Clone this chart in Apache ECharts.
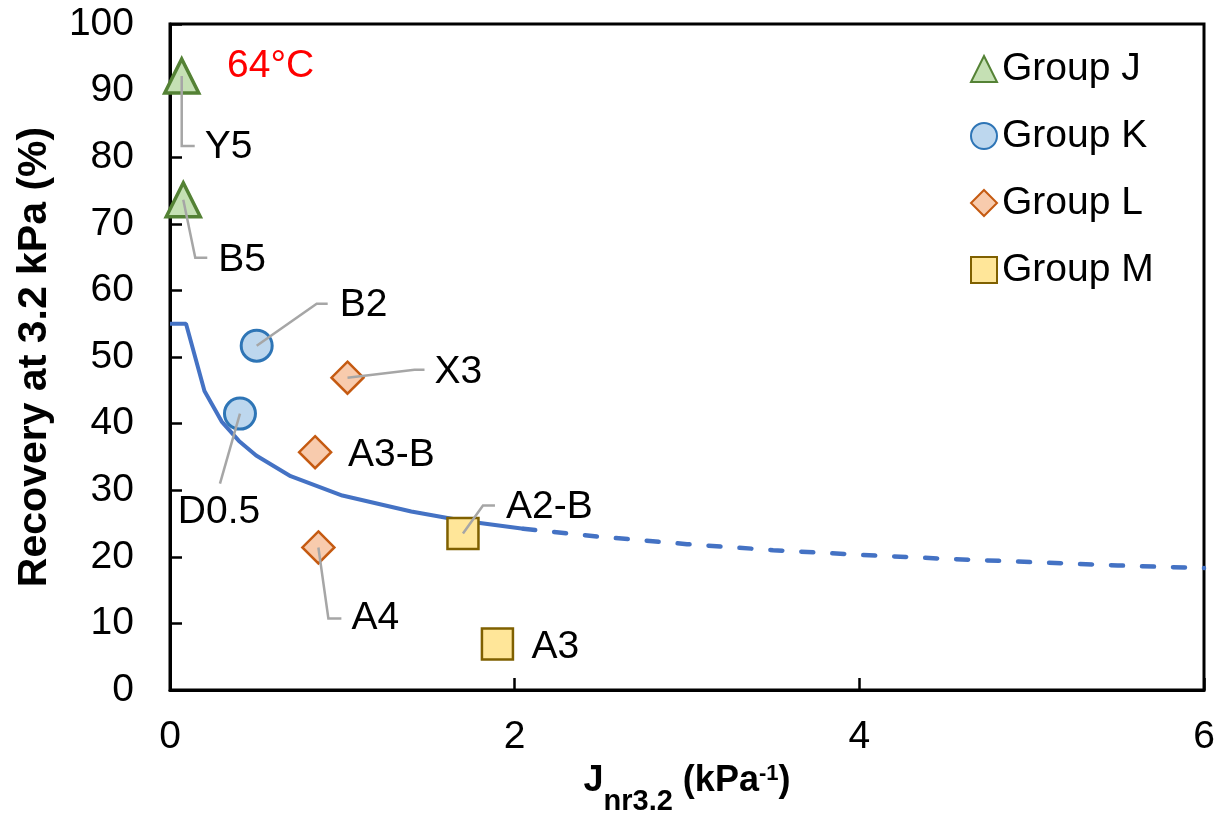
<!DOCTYPE html>
<html lang="en">
<head>
<meta charset="UTF-8">
<title>Recovery at 3.2 kPa vs Jnr3.2</title>
<script src="https://cdn.jsdelivr.net/npm/echarts@6.0.0/dist/echarts.min.js"></script>
<style>
    * {
        margin: 0;
        padding: 0;
    }
    body {
        background: #fff;
    }
    #chart {
        width: 1217px;
        height: 822px;
    }
</style>
</head>
<body>
<div id="chart"></div>

<script>
    // values: [Jnr3.2, recovery %]
    const groupJ = [[0.068, 92.2], [0.077, 73.6]];
    const groupJNames = ['Y5', 'B5'];
    const groupK = [[0.503, 51.7], [0.406, 41.5]];
    const groupKNames = ['B2', 'D0.5'];
    const groupL = [[1.03, 46.9], [0.842, 35.7], [0.861, 21.4]];
    const groupLNames = ['X3', 'A3-B', 'A4'];
    const groupM = [[1.70, 23.5], [1.90, 6.9]];
    const groupMNames = ['A2-B', 'A3'];

    // fitted curve, solid part and dashed extension
    const curveSolid = [[0, 55], [0.093, 55], [0.2, 44.9], [0.3, 40.3], [0.4, 37.4], [0.5, 35.2],
        [0.7, 32.1], [1.0, 29.2], [1.4, 26.8], [1.7, 25.4], [2.05, 24.2]];
    const curveDashed = [[2.05, 24.2], [2.5, 23.0], [3, 21.9], [3.5, 21.0], [4, 20.3], [4.5, 19.7],
        [5, 19.2], [5.5, 18.7], [6, 18.3]];

    const xTicks = [0, 2, 4, 6];
    const yTicks = [0, 10, 20, 30, 40, 50, 60, 70, 80, 90, 100];

    // where each point's label sits, in pixels from the point (layout only)
    const labelPlace = {
        'Y5':   {line: [[0, 0], [0, 70], [13, 70]], text: [23, 71]},
        'B5':   {line: [[0, 0], [12, 58], [24, 58]], text: [35, 60]},
        'B2':   {line: [[0, 0], [60, -42], [71, -42]], text: [83, -40]},
        'D0.5': {line: [[0, 0], [-20, 70]], text: [-21, 99], align: 'center'},
        'X3':   {line: [[0, 0], [67, -8], [77, -8]], text: [87, -5]},
        'A3-B': {text: [33, 3]},
        'A4':   {line: [[0, 0], [10, 71], [23, 71]], text: [33, 71]},
        'A2-B': {line: [[0, 0], [20, -28], [32, -28]], text: [43, -26]},
        'A3':   {text: [34, 3]}
    };

    const FONT = '"Liberation Sans", Arial, sans-serif';

    const labelData = [
        ...groupJ.map((p, i) => [p[0], p[1], groupJNames[i]]),
        ...groupK.map((p, i) => [p[0], p[1], groupKNames[i]]),
        ...groupL.map((p, i) => [p[0], p[1], groupLNames[i]]),
        ...groupM.map((p, i) => [p[0], p[1], groupMNames[i]])
    ];

    const myChart = echarts.init(document.getElementById('chart'));

    const scatterSeries = (name, data, symbol, size, fill, border, bw) => ({
        name,
        type: 'scatter',
        data,
        symbol,
        symbolSize: size,
        z: 3,
        itemStyle: {color: fill, borderColor: border, borderWidth: bw, opacity: 1}
    });

    const option = {
        animation: false,
        backgroundColor: '#fff',
        textStyle: {fontFamily: FONT},
        grid: {
            left: 170, right: 13, top: 24, bottom: 132,
            show: true, borderColor: '#000', borderWidth: 3,
            containLabel: false,
            outerBoundsMode: 'none'
        },
        legend: {
            orient: 'vertical',
            left: 970,
            top: 49,
            padding: 0,
            itemWidth: 26,
            itemHeight: 26,
            itemGap: 27,
            data: ['Group J', 'Group K', 'Group L', 'Group M'],
            textStyle: {fontSize: 39, color: '#000', fontFamily: FONT, lineHeight: 40}
        },
        graphic: [{
            type: 'text',
            left: 227,
            top: 47,
            style: {text: '64°C', fill: '#FF0000', fontSize: 39, fontFamily: FONT}
        }],
        xAxis: {
            type: 'value',
            min: 0,
            max: 6,
            interval: 2,
            name: '{a|J}{b|nr3.2}{a| (kPa}{c|-1}{a|)}',
            nameLocation: 'middle',
            nameGap: 73,
            nameMoveOverlap: false,
            nameTextStyle: {
                rich: {
                    a: {fontSize: 36, fontWeight: 'bold', fontFamily: FONT, color: '#000',
                        lineHeight: 44, verticalAlign: 'top'},
                    b: {fontSize: 29, fontWeight: 'bold', fontFamily: FONT, color: '#000',
                        lineHeight: 29, verticalAlign: 'top', padding: [24, 0, 0, 0]},
                    c: {fontSize: 22, fontWeight: 'bold', fontFamily: FONT, color: '#000',
                        lineHeight: 22, verticalAlign: 'top', padding: [0, 0, 14, 0]}
                }
            },
            axisLine: {show: true, onZero: false, lineStyle: {color: '#000', width: 3}},
            axisTick: {show: true, inside: true, length: 12, lineStyle: {color: '#000', width: 2.5}},
            axisLabel: {
                fontSize: 39, color: '#000', fontFamily: FONT, margin: 28,
                customValues: xTicks
            },
            splitLine: {show: false}
        },
        yAxis: {
            type: 'value',
            min: 0,
            max: 100,
            interval: 10,
            name: 'Recovery at 3.2 kPa (%)',
            nameLocation: 'middle',
            nameGap: 115,
            nameMoveOverlap: false,
            nameTextStyle: {fontSize: 41, fontWeight: 'bold', color: '#000', fontFamily: FONT},
            axisLine: {show: true, onZero: false, lineStyle: {color: '#000', width: 3}},
            axisTick: {show: true, inside: true, length: 12, lineStyle: {color: '#000', width: 2.5}},
            axisLabel: {
                fontSize: 39, color: '#000', fontFamily: FONT, margin: 36,
                customValues: yTicks
            },
            splitLine: {show: false}
        },
        series: [
            {
                name: 'fit',
                type: 'line',
                data: curveSolid,
                symbol: 'none',
                z: 2,
                lineStyle: {color: '#4472C4', width: 4}
            },
            {
                name: 'fit extension',
                type: 'line',
                data: curveDashed,
                symbol: 'none',
                z: 2,
                lineStyle: {color: '#4472C4', width: 4.5, type: [12, 19], cap: 'round'}
            },
            scatterSeries('Group J', groupJ, 'triangle', 34, '#C5E0B4', '#548235', 3.5),
            scatterSeries('Group K', groupK, 'circle', 31, '#BDD7EE', '#2E75B6', 3),
            scatterSeries('Group L', groupL, 'diamond', 32, '#F8CBAD', '#C55A11', 2.5),
            scatterSeries('Group M', groupM, 'rect', 31, '#FFE699', '#7F6000', 2.5),
            {
                name: 'labels',
                type: 'custom',
                data: labelData,
                encode: {x: 0, y: 1},
                z: 5,
                silent: true,
                renderItem: (params, api) => {
                    const name = labelData[params.dataIndex][2];
                    const place = labelPlace[name];
                    const p = api.coord([api.value(0), api.value(1)]);
                    const children = [];
                    if (place.line) {
                        children.push({
                            type: 'polyline',
                            shape: {points: place.line.map(o => [p[0] + o[0], p[1] + o[1]])},
                            style: {stroke: '#A6A6A6', lineWidth: 2.5, fill: 'none'}
                        });
                    }
                    children.push({
                        type: 'text',
                        style: {
                            text: name,
                            x: p[0] + place.text[0],
                            y: p[1] + place.text[1],
                            fontSize: 39,
                            fontFamily: FONT,
                            fill: '#000',
                            align: place.align || 'left',
                            verticalAlign: 'middle'
                        }
                    });
                    return {type: 'group', children};
                }
            }
        ]
    };

    myChart.setOption(option);
</script>
</body>
</html>
